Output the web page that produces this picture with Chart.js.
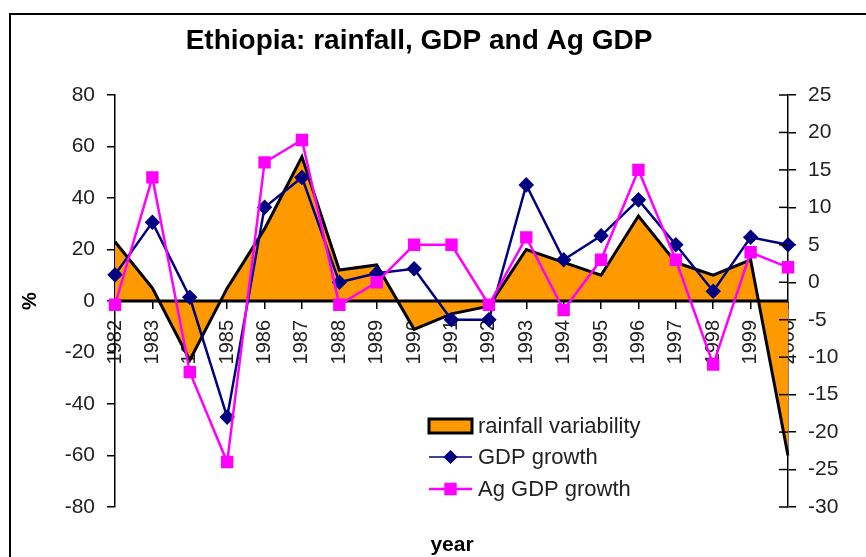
<!DOCTYPE html>
<html>
<head>
<meta charset="utf-8">
<script src="https://cdn.jsdelivr.net/npm/chart.js@4"></script>
<style>
  body { margin: 0; background: #fff; }
  #wrap { width: 866px; height: 557px; position: relative; }
</style>
</head>
<body>
<div id="wrap"><canvas id="myChart"></canvas></div>
<script>
// data
var years = ['1982','1983','1984','1985','1986','1987','1988','1989','1990','1991',
             '1992','1993','1994','1995','1996','1997','1998','1999','2000'];
// left axis (%)
var rainfall = [23, 5, -23, 5, 28, 56, 12, 14, -11, -5, -2, 20, 15, 10, 33, 15, 10, 16, -60];
// right axis
var gdpGrowth = [1, 8, -2, -18, 10, 14, 0, 1.2, 1.8, -5, -5, 13, 3, 6.2, 11, 5, -1.2, 6, 5];
var agGdpGrowth = [-3, 14, -12, -24, 16, 19, -3, 0, 5, 5, -3, 6, -3.7, 3, 15, 3, -11, 4, 2];
var leftTicks = [-80, 80, 20];   // min, max, step
var rightTicks = [-30, 25, 5];

Chart.defaults.font.family = "'Liberation Sans', Arial, sans-serif";
Chart.defaults.color = '#222';

var decor = {
    id: 'decor',
    beforeDraw: function(chart) {
        var ctx = chart.ctx;
        ctx.save();
        ctx.strokeStyle = '#000';
        ctx.lineWidth = 2;
        ctx.beginPath();
        ctx.moveTo(10, 560);
        ctx.lineTo(10, 14);
        ctx.lineTo(870, 14);
        ctx.stroke();
        ctx.restore();
    },
    afterDatasetDraw: function(chart, args) {
        if (args.index !== 0) return;
        var ctx = chart.ctx, a = chart.chartArea;
        var y0 = chart.scales.y.getPixelForValue(0);
        ctx.save();
        ctx.strokeStyle = '#000';
        ctx.lineWidth = 3;
        ctx.beginPath();
        ctx.moveTo(a.left, y0);
        ctx.lineTo(a.right, y0);
        ctx.stroke();
        ctx.restore();
    },
    afterDraw: function(chart) {
        var ctx = chart.ctx;
        var y2 = chart.scales.y2;
        ctx.save();
        // inner half of the right axis ticks
        ctx.strokeStyle = '#000';
        ctx.lineWidth = 1.5;
        y2.ticks.forEach(function(t, i) {
            var py = y2.getPixelForTick(i);
            ctx.beginPath();
            ctx.moveTo(y2.left - 9, py);
            ctx.lineTo(y2.left, py);
            ctx.stroke();
        });
        // title
        ctx.fillStyle = '#000';
        ctx.textAlign = 'center';
        ctx.textBaseline = 'middle';
        ctx.font = "bold 28px 'Liberation Sans', Arial, sans-serif";
        ctx.fillText('Ethiopia: rainfall, GDP and Ag GDP', 419, 41);
        ctx.font = "bold 21px 'Liberation Sans', Arial, sans-serif";
        ctx.fillText('year', 452, 545);

        // legend inside the plot
        var ds = chart.data.datasets;
        var lx = 429, lw = 43, tx = 478;
        var rows = [426, 457, 489];
        ctx.font = "22px 'Liberation Sans', Arial, sans-serif";
        ctx.textAlign = 'left';
        ctx.fillStyle = ds[0].backgroundColor;
        ctx.fillRect(lx, rows[0] - 7, lw, 14);
        ctx.strokeStyle = '#000';
        ctx.lineWidth = 3;
        ctx.strokeRect(lx, rows[0] - 7, lw, 14);
        for (var k = 1; k < 3; k++) {
            ctx.strokeStyle = ds[k].borderColor;
            ctx.lineWidth = k === 1 ? 1.5 : 2.5;
            ctx.beginPath();
            ctx.moveTo(lx, rows[k]);
            ctx.lineTo(lx + lw, rows[k]);
            ctx.stroke();
            Chart.helpers.drawPoint(ctx, {
                pointStyle: ds[k].pointStyle, radius: ds[k].pointRadius, borderWidth: 1
            }, lx + lw / 2, rows[k]);
            ctx.fillStyle = ds[k].borderColor;
            ctx.fill();
        }
        ctx.fillStyle = '#222';
        for (var j = 0; j < 3; j++) {
            ctx.fillText(ds[j].label, tx, rows[j] + 1);
        }
        ctx.restore();
    }
};

var myChart = new Chart(document.getElementById('myChart'), {
    type: 'line',
    data: {
        labels: years,
        datasets: [{
            label: 'rainfall variability',
            data: rainfall,
            yAxisID: 'y',
            borderColor: '#000',
            backgroundColor: '#FF9900',
            borderWidth: 3,
            pointRadius: 0,
            fill: 'origin',
            order: 3
        }, {
            label: 'GDP growth',
            data: gdpGrowth,
            yAxisID: 'y2',
            borderColor: '#000080',
            backgroundColor: '#000080',
            borderWidth: 2.5,
            pointStyle: 'rectRot',
            pointRadius: 6,
            fill: false,
            order: 2
        }, {
            label: 'Ag GDP growth',
            data: agGdpGrowth,
            yAxisID: 'y2',
            borderColor: '#FF00FF',
            backgroundColor: '#FF00FF',
            borderWidth: 2.5,
            pointStyle: 'rect',
            pointRadius: 7,
            fill: false,
            order: 1
        }]
    },
    options: {
        responsive: true,
        maintainAspectRatio: false,
        animation: false,
        layout: { padding: { left: 10, right: 10, top: 95, bottom: 50 } },
        plugins: {
            legend: { display: false },
            tooltip: { enabled: false }
        },
        elements: { line: { tension: 0 } },
        scales: {
            x: {
                position: { y: 0 },
                offset: false,
                border: { display: false },
                grid: { drawOnChartArea: false, drawTicks: true, tickLength: 8, color: '#000', lineWidth: 1.5 },
                ticks: { minRotation: 90, maxRotation: 90, autoSkip: false, padding: 11,
                         font: { size: 20 }, color: '#222' }
            },
            y: {
                position: 'left',
                min: leftTicks[0], max: leftTicks[1],
                afterFit: function(s) { s.width = 105; },
                border: { color: '#000', width: 1.5 },
                grid: { drawOnChartArea: false, tickLength: 8, color: '#000', lineWidth: 1.5 },
                ticks: { stepSize: leftTicks[2], padding: 12, font: { size: 21 }, color: '#222' },
                title: { display: true, text: '%', font: { size: 20, weight: 'bold' }, color: '#000',
                         padding: { top: 8, bottom: 0 } }
            },
            y2: {
                position: 'right',
                min: rightTicks[0], max: rightTicks[1],
                afterFit: function(s) { s.width = 68; },
                border: { color: '#000', width: 1.5 },
                grid: { drawOnChartArea: false, tickLength: 8, color: '#000', lineWidth: 1.5 },
                ticks: { stepSize: rightTicks[2], padding: 12, font: { size: 21 }, color: '#222' }
            }
        }
    },
    plugins: [decor]
});
</script>
</body>
</html>
